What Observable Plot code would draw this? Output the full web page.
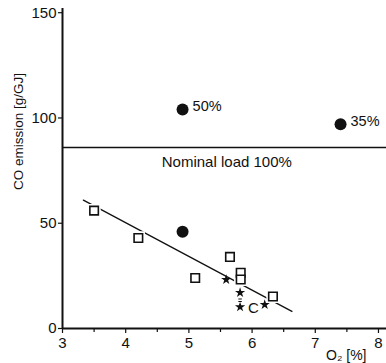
<!DOCTYPE html>
<html>
<head>
<meta charset="utf-8">
<script src="https://cdn.jsdelivr.net/npm/d3@7"></script>
<script src="https://cdn.jsdelivr.net/npm/@observablehq/plot@0.6"></script>
<style>
  html, body { margin: 0; padding: 0; background: #fff; }
  #chart svg { display: block; }
</style>
</head>
<body>
<div id="chart"></div>
<script>
// Data
const circleO2 = [4.9, 7.4, 4.9];
const circleCO = [104, 97, 46];
const circleLabels = ["50%", "35%", ""];

const squareO2 = [3.5, 4.2, 5.1, 5.65, 5.82, 5.82, 6.33];
const squareCO = [56, 43, 24, 34, 26.5, 23.3, 15.2];

const starO2 = [5.59, 5.81, 5.81, 6.2];
const starCO = [23.2, 17, 10.2, 11.3];

const fitO2 = [3.33, 6.63];
const fitCO = [61, 8.1];

const nominalCO = 86;
const xTicks = [3, 4, 5, 6, 7, 8];
const xMinorTicks = [3.5, 4.5, 5.5, 6.5, 7.5];
const yTicks = [0, 50, 100, 150];

const circles = circleO2.map((x, i) => ({x, y: circleCO[i], label: circleLabels[i]}));
const squares = squareO2.map((x, i) => ({x, y: squareCO[i]}));
const stars = starO2.map((x, i) => ({x, y: starCO[i]}));
const fit = fitO2.map((x, i) => ({x, y: fitCO[i]}));

const font = "'Liberation Sans', Arial, Helvetica, sans-serif";

const chart = Plot.plot({
  width: 386,
  height: 363,
  marginLeft: 62,
  marginRight: 0,
  marginTop: 8,
  marginBottom: 35,
  style: {fontFamily: font, color: "#111", background: "#fff"},
  x: {domain: [3, 8.127]},
  y: {domain: [0, 152]},
  marks: [
    Plot.axisY(yTicks, {tickSize: 4, tickPadding: 2, fontSize: 15, label: null, strokeWidth: 1.2}),
    Plot.axisX(xTicks, {tickSize: 5, tickPadding: 4, fontSize: 15, label: null, strokeWidth: 1.2}),
    Plot.axisX(xMinorTicks, {tickSize: 4, text: null, label: null, strokeWidth: 1.2}),
    Plot.ruleX([3], {y1: 0, y2: 152, stroke: "#111", strokeWidth: 2}),
    Plot.ruleY([0], {x1: 3, x2: 8.127, stroke: "#111", strokeWidth: 2}),
    Plot.ruleY([nominalCO], {x1: 3, x2: 8.127, stroke: "#111", strokeWidth: 1.5}),
    Plot.text(["Nominal load 100%"], {x: 5.6, y: 79, fontSize: 15, fill: "#111"}),
    Plot.line(fit, {x: "x", y: "y", stroke: "#111", strokeWidth: 1.3}),
    Plot.ruleX([5.81], {y1: 12.3, y2: 14.6, stroke: "#111", strokeWidth: 3.5, strokeDasharray: "1.2,1.3"}),
    Plot.dot(squares, {x: "x", y: "y", symbol: "square", r: 5.2, fill: "#fff", stroke: "#fff", strokeWidth: 4}),
    Plot.dot(squares, {x: "x", y: "y", symbol: "square", r: 4.8, fill: "#fff", stroke: "#111", strokeWidth: 1.6}),
    Plot.dot(stars, {x: "x", y: "y", symbol: "star", r: 3.2, fill: "#111", stroke: "none"}),
    Plot.dot(circles, {x: "x", y: "y", r: 6, fill: "#111", stroke: "none"}),
    Plot.text(circles, {x: "x", y: "y", text: "label", dx: 10, dy: -3, textAnchor: "start", fontSize: 14.5, fill: "#111"}),
    Plot.text(["C"], {x: 6.02, y: 9.8, fontSize: 15, fill: "#111"}),
    Plot.text(["CO emission [g/GJ]"], {x: 2.3, y: 93.6, rotate: -90, fontSize: 13.5, fill: "#111"}),
    Plot.text(["O\u2082 [%]"], {x: 7.49, y: -12.8, fontSize: 14, fill: "#111"})
  ]
});
document.getElementById("chart").appendChild(chart);
</script>
</body>
</html>
